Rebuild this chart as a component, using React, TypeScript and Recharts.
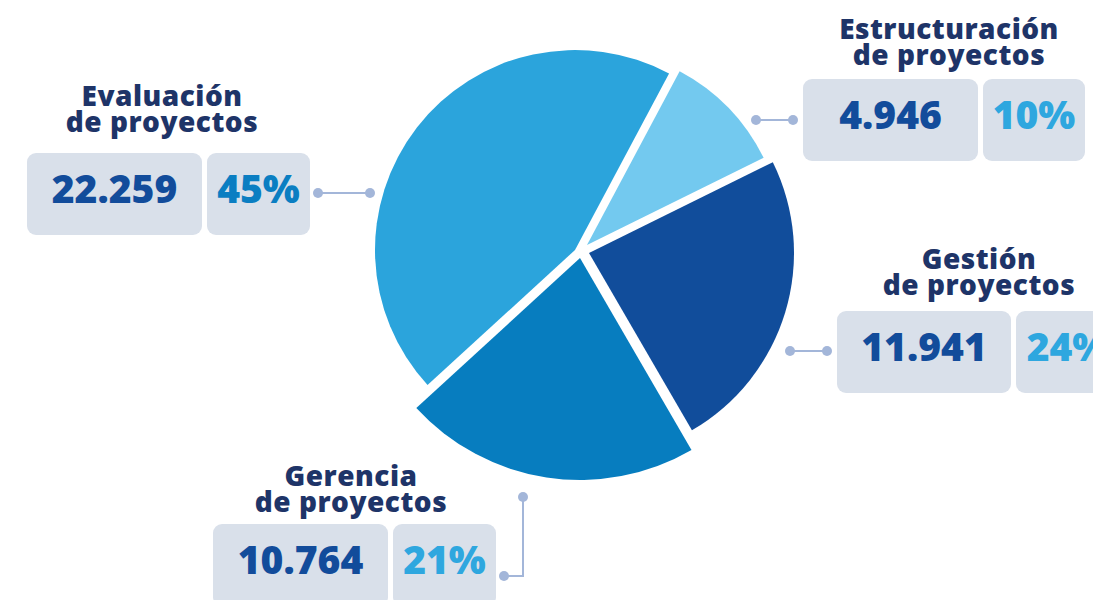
import React from 'react';
import { PieChart, Pie, Cell } from 'recharts';

const titleLine1 = ['Evaluación', 'Estructuración', 'Gestión', 'Gerencia'];
const titleLine2 = ['de proyectos', 'de proyectos', 'de proyectos', 'de proyectos'];
const values = [22259, 4946, 11941, 10764];
const percentLabels = ['45%', '10%', '24%', '21%'];
const sliceColors = ['#2ba4dc', '#73c9ef', '#114d9b', '#077dbf'];
const percentColors = ['#0a7ec2', '#2ea7df', '#2ea7df', '#2ea7df'];

const data = titleLine1.map((t, i) => ({ name: `${t} ${titleLine2[i]}`, value: values[i] }));

const fmt = (n: number) => n.toString().replace(/\B(?=(\d{3})+(?!\d))/g, '.');

// layout (exploded slices: each slice has its own centre / radius)
const sliceGeom = [
  { cx: 575, cy: 250, r: 200 },
  { cx: 587, cy: 245, r: 197 },
  { cx: 589, cy: 253, r: 205 },
  { cx: 580, cy: 258, r: 222 },
];

const labelGeom = [
  { tx: 162, ty: 106, bx: 27, by: 153, w1: 175, w2: 103 },
  { tx: 949, ty: 39, bx: 803, by: 79, w1: 175, w2: 102 },
  { tx: 979, ty: 269, bx: 837, by: 311, w1: 174, w2: 104 },
  { tx: 351, ty: 486, bx: 213, by: 524, w1: 175, w2: 103 },
];

const connectors = [
  [[318, 193], [370, 193]],
  [[756, 120], [793, 120]],
  [[790, 351], [827, 351]],
  [[523, 497], [523, 576], [504, 576]],
];

const FONT = "'Open Sans', 'Noto Sans', sans-serif";
const BOX_H = 82;
const GAP = 5;
const TITLE_SIZE = 28;
const TITLE_LEAD = 26;

export default function App() {
  return (
    <div style={{ position: 'absolute', left: 0, top: 0, width: 1093, height: 600, background: '#fff', overflow: 'hidden' }}>
      <div style={{ position: 'absolute', left: 0, top: 0 }}>
        <PieChart width={1093} height={600} margin={{ top: 0, right: 0, bottom: 0, left: 0 }}>
          {sliceGeom.map((g, i) => (
            <Pie
              key={i}
              data={data}
              dataKey="value"
              nameKey="name"
              cx={g.cx}
              cy={g.cy}
              outerRadius={g.r}
              innerRadius={0}
              startAngle={222.5}
              endAngle={-137.5}
              isAnimationActive={false}
              stroke="none"
              legendType="none"
            >
              {data.map((_, j) => (
                <Cell key={j} fill={j === i ? sliceColors[j] : 'transparent'} stroke="none" />
              ))}
            </Pie>
          ))}
        </PieChart>
      </div>
      <svg width={1093} height={600} style={{ position: 'absolute', left: 0, top: 0 }}>
        {connectors.map((pts, i) => (
          <g key={i}>
            <polyline
              points={pts.map((p) => p.join(',')).join(' ')}
              fill="none"
              stroke="#a3b6d9"
              strokeWidth={2}
            />
            <circle cx={pts[0][0]} cy={pts[0][1]} r={5} fill="#a3b6d9" />
            <circle cx={pts[pts.length - 1][0]} cy={pts[pts.length - 1][1]} r={5} fill="#a3b6d9" />
          </g>
        ))}
        {labelGeom.map((g, i) => (
          <g key={i} fontFamily={FONT} fontWeight={800}>
            <text x={g.tx} y={g.ty} textAnchor="middle" fontSize={TITLE_SIZE} letterSpacing={0.5} fill="#1e3468">
              {titleLine1[i]}
            </text>
            <text x={g.tx} y={g.ty + TITLE_LEAD} textAnchor="middle" fontSize={TITLE_SIZE} letterSpacing={0.5} fill="#1e3468">
              {titleLine2[i]}
            </text>
            <rect x={g.bx} y={g.by} width={g.w1} height={BOX_H} rx={9} fill="#d9e0ea" />
            <rect x={g.bx + g.w1 + GAP} y={g.by} width={g.w2} height={BOX_H} rx={9} fill="#d9e0ea" />
            <text x={g.bx + g.w1 / 2} y={g.by + 50} textAnchor="middle" fontSize={39} fill="#124c9b">
              {fmt(values[i])}
            </text>
            <text x={g.bx + g.w1 + GAP + g.w2 / 2} y={g.by + 50} textAnchor="middle" fontSize={39} fill={percentColors[i]}>
              {percentLabels[i]}
            </text>
          </g>
        ))}
      </svg>
    </div>
  );
}
